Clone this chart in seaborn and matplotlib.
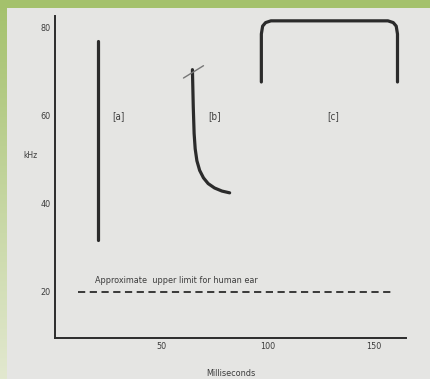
import matplotlib
matplotlib.use('Agg')
import matplotlib.pyplot as plt
from matplotlib.patches import Rectangle
import numpy as np
import pandas as pd
import seaborn as sns

# трассы сигналов: миллисекунды / кГц
a_ms = [20, 20]
a_khz = [31.8, 77.0]

b_ms = [64.6, 65.0, 65.4, 65.9, 66.7, 68.0, 69.8, 72.0, 75.0, 78.5, 82.1]
b_khz = [70.5, 62.0, 56.0, 52.5, 49.8, 47.6, 45.9, 44.6, 43.6, 42.9, 42.5]
b_tick_ms = [60.4, 69.8]
b_tick_khz = [68.6, 71.4]

c_ms = [97, 97, 97.6, 99, 101.5, 156.5, 159, 160.4, 161, 161]
c_khz = [67.7, 78.6, 80.4, 81.2, 81.6, 81.6, 81.2, 80.4, 78.6, 67.7]

limit_ms = [11, 158]
limit_khz = [20, 20]

labels = ['[a]', '[b]', '[c]']
label_ms = [30, 75, 131]
label_khz = [60, 60, 60]

xticks = [50, 100, 150]
yticks = [20, 40, 60, 80]

paper = '#e5e5e3'
ink = '#2b2b2b'
txt = '#3c3c3c'

sns.set_style('white')
plt.rcParams['font.family'] = ['DejaVu Sans']
plt.rcParams['font.stretch'] = 'condensed'

fig = plt.figure(figsize=(4.3, 3.79), dpi=100, facecolor=paper)

# зелёная рамка скана
frame = fig.add_axes([0, 0, 1, 1], zorder=-1)
grad = np.linspace(0, 1, 200)[:, None] * np.ones((1, 2))
frame.imshow(grad, extent=[0, 7 / 430, 0, 1], cmap=sns.blend_palette(['#a4c16c', '#e2e8cf'], as_cmap=True),
             aspect='auto', origin='upper')
frame.add_patch(Rectangle((0, 1 - 8 / 379), 1, 8 / 379, color='#a4c16c', lw=0))
frame.set_xlim(0, 1)
frame.set_ylim(0, 1)
frame.axis('off')

ax = fig.add_axes([55 / 430, 41 / 379, 351 / 430, 322 / 379])
ax.set_facecolor('none')

lw = 2.3
sns.lineplot(x=a_ms, y=a_khz, ax=ax, color=ink, lw=lw, sort=False, estimator=None)
sns.lineplot(x=b_ms, y=b_khz, ax=ax, color=ink, lw=lw, sort=False, estimator=None)
sns.lineplot(x=b_tick_ms, y=b_tick_khz, ax=ax, color='#777777', lw=1.0, sort=False, estimator=None)
sns.lineplot(x=c_ms, y=c_khz, ax=ax, color=ink, lw=lw, sort=False, estimator=None)
ax.plot(limit_ms, limit_khz, color=ink, lw=1.3, ls=(0, (4, 2.5)))

ax.text(19, 21.6, 'Approximate  upper limit for human ear', fontsize=6.5, color=txt,
        ha='left', va='bottom')
for lab, xm, yk in zip(labels, label_ms, label_khz):
    ax.text(xm, yk, lab, fontsize=7, color=txt, ha='center', va='center')

ax.set_xlim(0, 165)
ax.set_ylim(9.5, 82.7)
ax.set_xticks(xticks)
ax.set_yticks(yticks)
ax.tick_params(direction='in', length=4, width=1, colors=ink, labelcolor=txt, labelsize=6.5, pad=3)
sns.despine(ax=ax)
for s in ['left', 'bottom']:
    ax.spines[s].set_color(ink)
    ax.spines[s].set_linewidth(1.4)

ax.set_xlabel('Milliseconds', fontsize=6.5, color=txt, labelpad=13)
fig.text(23 / 430, 1 - 155 / 379, 'kHz', fontsize=6, color=txt, ha='left', va='center')

fig.savefig('out.png', dpi=100, facecolor=paper)
